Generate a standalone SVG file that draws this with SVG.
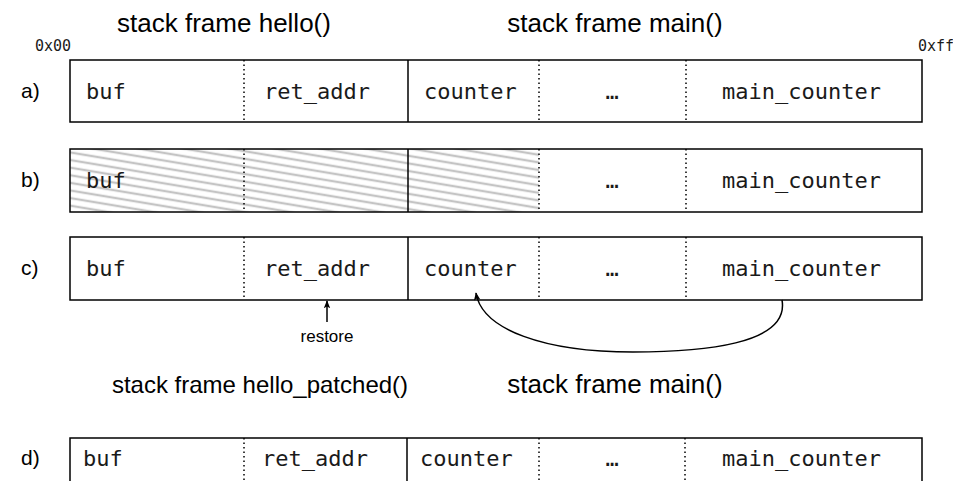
<svg xmlns="http://www.w3.org/2000/svg" width="953" height="481" viewBox="0 0 953 481">
<style>
.box{fill:none;stroke:#000;stroke-width:1.5}
.sol{stroke:#000;stroke-width:1.5}
.dot{stroke:#000;stroke-width:1.5;stroke-dasharray:1.5 3}
.mono{font-family:"DejaVu Sans Mono",monospace;font-size:22px;fill:#1a1a1a}
.small{font-family:"DejaVu Sans Mono",monospace;font-size:15px;fill:#1a1a1a}
.sans{font-family:"Liberation Sans",Arial,sans-serif;fill:#000}
.title{font-size:26px}
.lbl{font-size:21px}
.con{fill:none;stroke:#000;stroke-width:1.5}
</style>
<defs>
<pattern id="hatch" patternUnits="userSpaceOnUse" width="200" height="7.5" patternTransform="rotate(9.5)">
<line x1="0" y1="3.75" x2="200" y2="3.75" stroke="#c4c4c4" stroke-width="2.2"/>
</pattern>
<marker id="arr" viewBox="0 0 10 10" refX="9" refY="5" markerWidth="8" markerHeight="8" markerUnits="userSpaceOnUse" orient="auto">
<path d="M0,1 L10,5 L0,9 L2,5 Z" fill="#000"/>
</marker>
</defs>

<text class="sans title" x="224" y="32" text-anchor="middle">stack frame hello()</text>
<text class="sans title" x="615" y="32" text-anchor="middle">stack frame main()</text>
<text class="small" x="35" y="51">0x00</text>
<text class="small" x="918" y="51">0xff</text>

<g id="row-a">
<rect class="box" x="70" y="60" width="852" height="62"/>
<line class="dot" x1="244" y1="60" x2="244" y2="122"/>
<line class="sol" x1="408" y1="60" x2="408" y2="122"/>
<line class="dot" x1="539" y1="60" x2="539" y2="122"/>
<line class="dot" x1="686" y1="60" x2="686" y2="122"/>
<text class="sans lbl" x="21" y="98">a)</text>
<text class="mono" x="86" y="99">buf</text>
<text class="mono" x="264" y="99">ret_addr</text>
<text class="mono" x="424" y="99">counter</text>
<text class="mono" x="612" y="99" text-anchor="middle">…</text>
<text class="mono" x="722" y="99">main_counter</text>
</g>

<g id="row-b">
<rect x="70" y="149" width="469" height="63" fill="url(#hatch)"/>
<rect class="box" x="70" y="149" width="852" height="63"/>
<line class="dot" x1="244" y1="149" x2="244" y2="212"/>
<line class="sol" x1="408" y1="149" x2="408" y2="212"/>
<line class="dot" x1="539" y1="149" x2="539" y2="212"/>
<line class="dot" x1="686" y1="149" x2="686" y2="212"/>
<text class="sans lbl" x="21" y="187">b)</text>
<text class="mono" x="86" y="188">buf</text>
<text class="mono" x="612" y="188" text-anchor="middle">…</text>
<text class="mono" x="722" y="188">main_counter</text>
</g>

<g id="row-c">
<rect class="box" x="70" y="237" width="852" height="63"/>
<line class="dot" x1="244" y1="237" x2="244" y2="300"/>
<line class="sol" x1="408" y1="237" x2="408" y2="300"/>
<line class="dot" x1="539" y1="237" x2="539" y2="300"/>
<line class="dot" x1="686" y1="237" x2="686" y2="300"/>
<text class="sans lbl" x="21" y="275">c)</text>
<text class="mono" x="86" y="276">buf</text>
<text class="mono" x="264" y="276">ret_addr</text>
<text class="mono" x="424" y="276">counter</text>
<text class="mono" x="612" y="276" text-anchor="middle">…</text>
<text class="mono" x="722" y="276">main_counter</text>
</g>

<g id="restore-label">
<text class="sans" font-size="17" x="327" y="342" text-anchor="middle">restore</text>
</g>

<text class="sans" font-size="24" x="260" y="393" text-anchor="middle">stack frame hello_patched()</text>
<text class="sans title" x="615" y="393" text-anchor="middle">stack frame main()</text>

<g id="row-d">
<path class="box" d="M70,490 V438 H922 V490"/>
<line class="dot" x1="244" y1="438" x2="244" y2="481"/>
<line class="sol" x1="407" y1="438" x2="407" y2="481"/>
<line class="dot" x1="539" y1="438" x2="539" y2="481"/>
<line class="dot" x1="685" y1="438" x2="685" y2="481"/>
<text class="sans lbl" x="21" y="465">d)</text>
<text class="mono" x="83" y="466">buf</text>
<text class="mono" x="262" y="466">ret_addr</text>
<text class="mono" x="420" y="466">counter</text>
<text class="mono" x="612" y="466" text-anchor="middle">…</text>
<text class="mono" x="722" y="466">main_counter</text>
</g>

<g id="connectors">
<line class="con" x1="327" y1="322" x2="327" y2="301" marker-end="url(#arr)"/>
<path class="con" d="M782,300 C790,345 700,352 633,352 C545,352 482,330 476,293" marker-end="url(#arr)"/>
</g>
</svg>
